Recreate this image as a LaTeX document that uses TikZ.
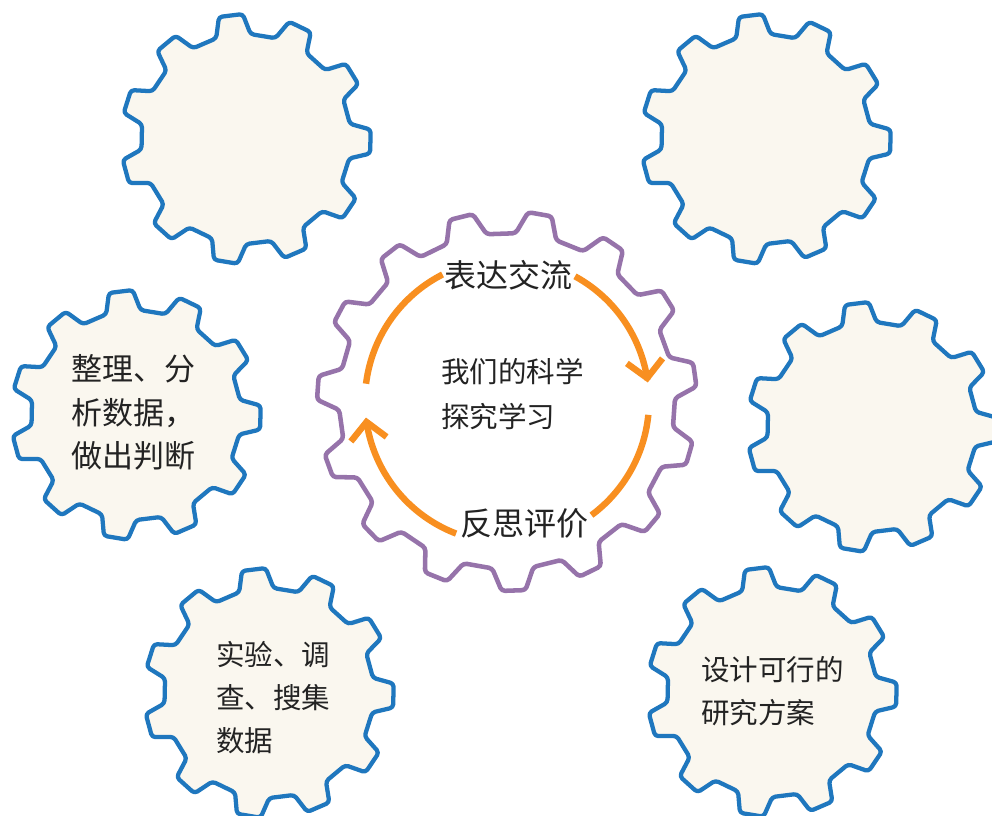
\documentclass[tikz,border=0pt]{standalone}
\usepackage{fontspec}
\newfontfamily\cjk{Noto Sans CJK SC}
\usetikzlibrary{arrows.meta}
\definecolor{gearblue}{RGB}{31,119,190}
\definecolor{gearpurple}{RGB}{150,115,170}
\definecolor{gearcream}{RGB}{250,247,239}
\definecolor{arcorange}{RGB}{248,143,32}
\definecolor{textdark}{RGB}{35,35,35}
\tikzset{
  bluegear/.style={draw=gearblue, fill=gearcream, line width=3.2pt, rounded corners=2.5pt, line join=round},
  purplegear/.style={draw=gearpurple, fill=white, line width=3.4pt, rounded corners=2.5pt, line join=round},
  cyclearc/.style={draw=arcorange, line width=4.8pt},
  cyclearrow/.style={cyclearc, -{Straight Barb[length=13pt,width=27pt]}},
  gtext/.style={align=left, inner sep=0pt, text=textdark},
}
% #1 style, #2 cx, #3 cy, #4 teeth, #5 tip radius, #6 root radius, #7 rotation, #8 tip half angle, #9 base half angle
\newcommand\mygear[9]{%
  \path[#1] ({#2+#6*cos(180/#4-#9)*cos(#7+180/#4)},{#3-#6*cos(180/#4-#9)*sin(#7+180/#4)})
    \foreach \k [evaluate=\k as \a using #7+\k*360/#4] in {1,...,#4} {
      -- ({#2+#6*cos(\a-#9)},{#3-#6*sin(\a-#9)})
      -- ({#2+#5*cos(\a-#8)},{#3-#5*sin(\a-#8)})
      -- ({#2+#5*cos(\a+#8)},{#3-#5*sin(\a+#8)})
      -- ({#2+#6*cos(\a+#9)},{#3-#6*sin(\a+#9)})
    } -- cycle;
}
\begin{document}
\begin{tikzpicture}[x=0.75pt, y=-0.75pt]
\useasboundingbox (0,0) rectangle (992,815);
\clip (0,0) rectangle (992,815);
% blue gears
\mygear{bluegear}{246}{139}{11}{125}{105}{97}{5.5}{9.5}
\mygear{bluegear}{766}{139}{11}{125}{105}{97}{5.5}{9.5}
\mygear{bluegear}{136}{415}{11}{125}{105}{97}{5.5}{9.5}
\mygear{bluegear}{872}{427}{11}{125}{105}{97}{5.5}{9.5}
\mygear{bluegear}{269}{693}{11}{125}{105}{97}{5.5}{9.5}
\mygear{bluegear}{772}{692}{11}{125}{105}{97}{5.5}{9.5}
% purple gear
\mygear{purplegear}{507}{401}{15}{190}{168}{104}{3.6}{7.05}
\coordinate (hub) at (507,401);
% orange cycle arcs
\draw[cyclearc] plot[domain=173:117, samples=40] ({507+142*cos(\x)},{401-142*sin(\x)});
\draw[cyclearrow] plot[domain=61.4:7.5, samples=50] ({507+142*cos(\x)},{401-142*sin(\x)});
\draw[cyclearc] plot[domain=-5.6:-53.5, samples=40] ({507+142*cos(\x)},{401-142*sin(\x)});
\draw[cyclearrow] plot[domain=-111:-173.3, samples=50] ({507+142*cos(\x)},{401-142*sin(\x)});
% texts
\node[gtext, anchor=center, font=\cjk\fontsize{24}{30}\selectfont] (express) at (508.5,275) {表达交流};
\node[gtext, anchor=center, font=\cjk\fontsize{24}{30}\selectfont] (reflect) at (524.5,523) {反思评价};
\node[gtext, anchor=west, font=\cjk\fontsize{21.4}{33.75}\selectfont] (core) at (441,394.5) {我们的科学\\探究学习};
\node[gtext, anchor=west, font=\cjk\fontsize{23.25}{32.6}\selectfont] (analyse) at (71,412.7) {整理、分\\析数据，\\做出判断};
\node[gtext, anchor=west, font=\cjk\fontsize{21.4}{32}\selectfont] (collect) at (216,697.7) {实验、调\\查、搜集\\数据};
\node[gtext, anchor=west, font=\cjk\fontsize{21.4}{32.2}\selectfont] (design) at (701,691.5) {设计可行的\\研究方案};
\end{tikzpicture}
\end{document}
